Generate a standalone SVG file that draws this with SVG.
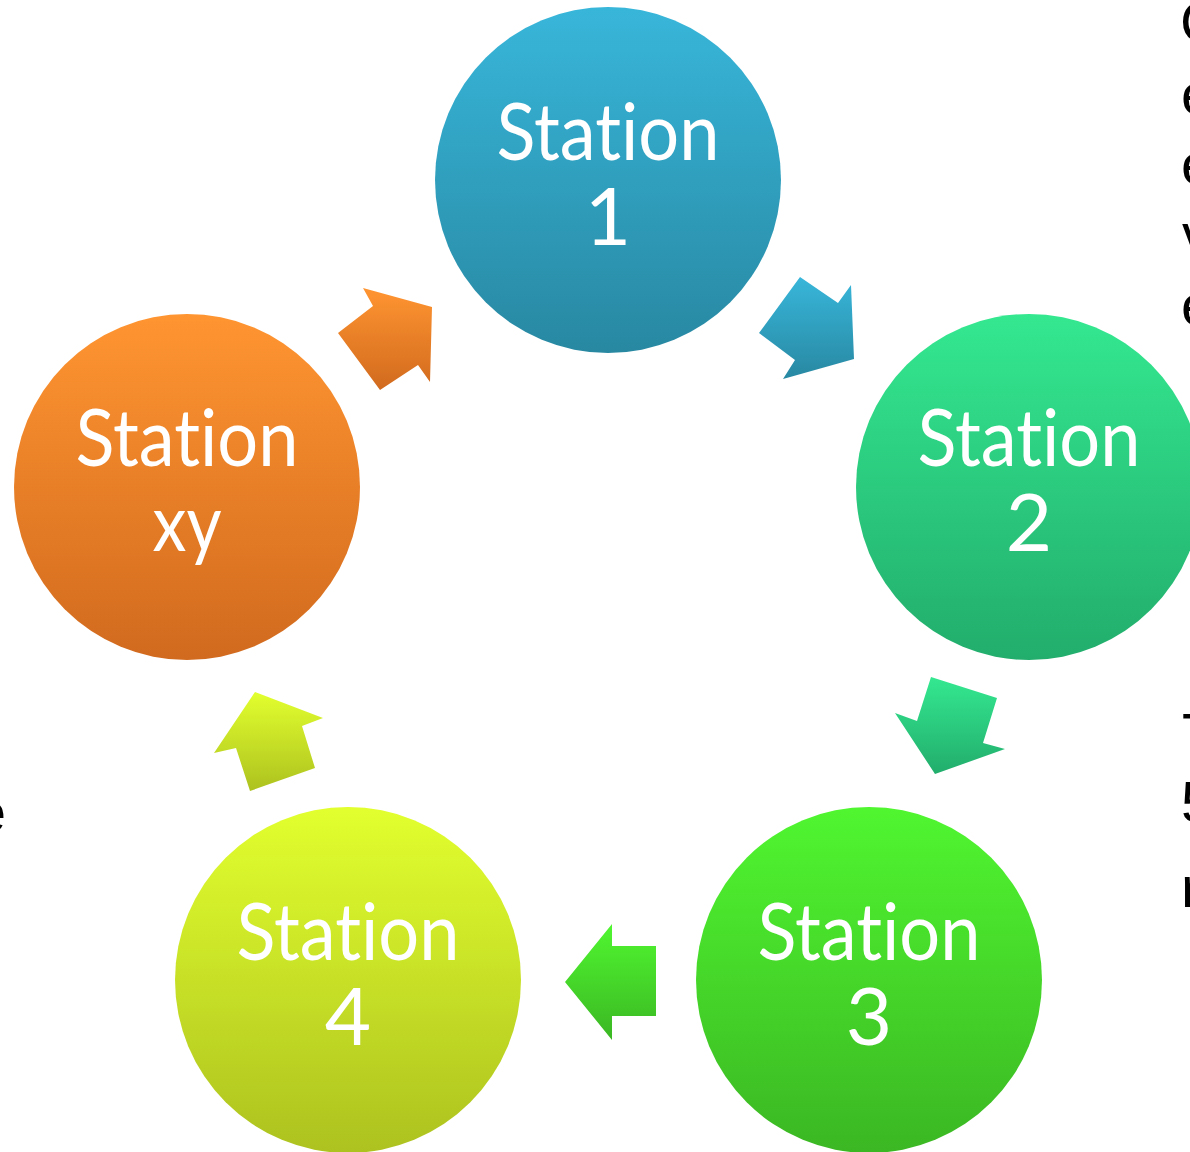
<svg xmlns="http://www.w3.org/2000/svg" width="1190" height="1152" viewBox="0 0 1190 1152">
<defs>
<linearGradient id="gBlue" x1="0" y1="0" x2="0" y2="1"><stop offset="0" stop-color="#38B6DA"/><stop offset="1" stop-color="#2888A2"/></linearGradient>
<linearGradient id="gTeal" x1="0" y1="0" x2="0" y2="1"><stop offset="0" stop-color="#34E890"/><stop offset="1" stop-color="#22AD6C"/></linearGradient>
<linearGradient id="gGreen" x1="0" y1="0" x2="0" y2="1"><stop offset="0" stop-color="#50F630"/><stop offset="1" stop-color="#3BB723"/></linearGradient>
<linearGradient id="gLime" x1="0" y1="0" x2="0" y2="1"><stop offset="0" stop-color="#E2FF2E"/><stop offset="1" stop-color="#ADC21F"/></linearGradient>
<linearGradient id="gOrange" x1="0" y1="0" x2="0" y2="1"><stop offset="0" stop-color="#FF9531"/><stop offset="1" stop-color="#D16A1E"/></linearGradient>
</defs>
<style>
.lbl{font-family:Lato,"Open Sans",sans-serif;font-size:80px;fill:#FFFFFF;text-anchor:middle;font-variant-ligatures:none;font-feature-settings:"liga" 0,"clig" 0}
.side{font-family:"Liberation Sans",Arial,sans-serif;font-size:58px;fill:#000000}
</style>
<rect width="1190" height="1152" fill="#FFFFFF"/>
<g id="side-text">
<text class="side" x="1180" y="42">C</text>
<text class="side" x="1181" y="114">e</text>
<text class="side" x="1181" y="184">e</text>
<text class="side" x="1182" y="254">v</text>
<text class="side" x="1181" y="325">e</text>
<text class="side" x="1182" y="754">T</text>
<text class="side" x="1181" y="822">5</text>
<text class="side" x="1181" y="907">r</text>
<text class="side" x="6" y="832" text-anchor="end">e</text>
</g>
<g id="connectors">
<polygon points="800,277 838,303 851,285 854,359 783,379 795,360 759,333" fill="url(#gBlue)"/>
<polygon points="931,677 997,698 983,743 1005,749 935,774 895,713 917,721" fill="url(#gTeal)"/>
<polygon points="656,946 612,946 612,924 565,982 612,1040 612,1016 656,1016" fill="url(#gGreen)"/>
<polygon points="255,692 323,718 302,726 315,768 250,791 236,748 214,753" fill="url(#gLime)"/>
<polygon points="363,288 432,307 430,382 418,365 380,390 338,333 373,306" fill="url(#gOrange)"/>
</g>
<g id="station1">
<circle cx="608" cy="180" r="173" fill="url(#gBlue)"/>
<text class="lbl" x="608" y="160" textLength="223" lengthAdjust="spacingAndGlyphs">Station</text>
<text class="lbl" x="608" y="245">1</text>
</g>
<g id="station2">
<circle cx="1029" cy="487" r="173" fill="url(#gTeal)"/>
<text class="lbl" x="1029" y="466" textLength="223" lengthAdjust="spacingAndGlyphs">Station</text>
<text class="lbl" x="1029" y="551">2</text>
</g>
<g id="station3">
<circle cx="869" cy="980" r="173" fill="url(#gGreen)"/>
<text class="lbl" x="869" y="960" textLength="223" lengthAdjust="spacingAndGlyphs">Station</text>
<text class="lbl" x="869" y="1045">3</text>
</g>
<g id="station4">
<circle cx="348" cy="980" r="173" fill="url(#gLime)"/>
<text class="lbl" x="348" y="960" textLength="223" lengthAdjust="spacingAndGlyphs">Station</text>
<text class="lbl" x="348" y="1045">4</text>
</g>
<g id="stationxy">
<circle cx="187" cy="487" r="173" fill="url(#gOrange)"/>
<text class="lbl" x="187" y="466" textLength="223" lengthAdjust="spacingAndGlyphs">Station</text>
<text class="lbl" x="187" y="551" textLength="69" lengthAdjust="spacingAndGlyphs">xy</text>
</g>
</svg>
